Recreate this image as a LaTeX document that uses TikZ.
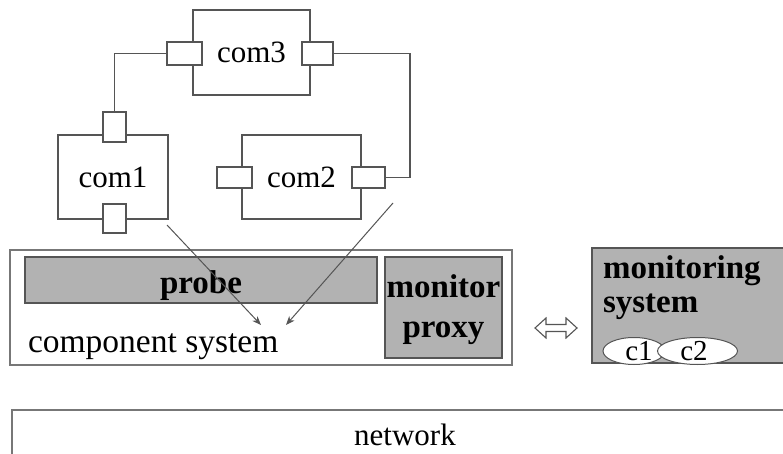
\documentclass[tikz,border=0pt]{standalone}
\usepackage{fontspec}
\setmainfont{Liberation Serif}
\usetikzlibrary{arrows.meta,shapes.geometric}
\definecolor{linegray}{RGB}{85,85,85}
\definecolor{boxgray}{RGB}{178,178,178}
\begin{document}
\begin{tikzpicture}[x=1pt,y=-1pt,
  every node/.style={inner sep=0pt,outer sep=0pt},
  txt/.style={font=\fontsize{31}{31}\selectfont},
  ltxt/.style={font=\fontsize{33.5}{33.5}\selectfont},
  btxt/.style={font=\fontsize{33}{33}\selectfont\bfseries},
  stxt/.style={font=\fontsize{29}{29}\selectfont},
  comp/.style={draw=linegray,line width=1.4pt,fill=white,rectangle},
  port/.style={draw=linegray,line width=1.4pt,fill=white,rectangle},
  wire/.style={draw=linegray,line width=1.4pt},
  grayblock/.style={draw=linegray,line width=1.2pt,fill=boxgray,rectangle},
  plainblock/.style={draw=linegray!80,line width=1.6pt,fill=white,rectangle},
  flow/.style={draw=linegray,line width=1pt,-{Stealth[length=9pt,width=7pt]}},
  tag/.style={draw=linegray,line width=1pt,fill=white,ellipse}
]
\useasboundingbox (0,0) rectangle (783,454);
\clip (0,0) rectangle (783,454);

% network layer
\node[plainblock,minimum width=790pt,minimum height=70pt] (net) at (407,445) {};
\node[txt,anchor=base] (netlabel) at (405,445) {network};

% component system with probe and monitor proxy
\node[plainblock,minimum width=502pt,minimum height=115pt] (cs) at (261,307.5) {};
\node[grayblock,minimum width=352pt,minimum height=46pt] (probe) at (201,280) {};
\node[btxt,anchor=base] (probelabel) at (201,293) {probe};
\node[grayblock,minimum width=117pt,minimum height=101pt] (proxy) at (443.5,307.5) {};
\node[btxt,anchor=base] (proxy1) at (443.5,297) {monitor};
\node[btxt,anchor=base] (proxy2) at (443.5,337) {proxy};
\node[ltxt,anchor=base west] (cslabel) at (28,352) {component system};

% exchange arrow
\draw[draw=linegray,line width=1.1pt,fill=white]
  (535,328) -- (546,318) -- (546,324.5) -- (566,324.5) -- (566,318) -- (577,328)
  -- (566,338) -- (566,331.5) -- (546,331.5) -- (546,338) -- cycle;

% monitoring system
\node[grayblock,minimum width=200pt,minimum height=115pt] (ms) at (692,305.5) {};
\node[btxt,anchor=base west] (ms1) at (603,278) {monitoring};
\node[btxt,anchor=base west] (ms2) at (603,312) {system};
\node[tag,minimum width=62pt,minimum height=27pt] (c1) at (634,351) {};
\node[tag,minimum width=80pt,minimum height=27pt] (c2) at (697.5,351) {};
\node[stxt,anchor=base] (c1label) at (639,360) {c1};
\node[stxt,anchor=base] (c2label) at (694,360) {c2};

% components
\node[comp,txt,minimum width=117pt,minimum height=85pt] (com3) at (251.5,52.5) {com3};
\node[comp,txt,minimum width=110pt,minimum height=84pt] (com1) at (113,177) {com1};
\node[comp,txt,minimum width=119pt,minimum height=84pt] (com2) at (301.5,177) {com2};

% ports
\node[port,minimum width=35pt,minimum height=23pt] (p3l) at (184.5,53.5) {};
\node[port,minimum width=31pt,minimum height=23pt] (p3r) at (317.5,53.5) {};
\node[port,minimum width=23pt,minimum height=30pt] (p1t) at (114.5,127) {};
\node[port,minimum width=23pt,minimum height=29pt] (p1b) at (114.5,218.5) {};
\node[port,minimum width=35pt,minimum height=21pt] (p2l) at (234.5,177.5) {};
\node[port,minimum width=33pt,minimum height=21pt] (p2r) at (368.5,177.5) {};

% wiring between ports
\coordinate (rbend) at (410,53.5);
\draw[wire] (p3l.west) -| (p1t.north);
\draw[wire] (p3r.east) -- (rbend) |- (p2r.east);

% deployment arrows into the component system
\coordinate (s1) at (167,225);
\coordinate (t1) at (261,325);
\coordinate (s2) at (393,203);
\coordinate (t2) at (286,325);
\draw[flow] (s1) -- (t1);
\draw[flow] (s2) -- (t2);
\end{tikzpicture}
\end{document}
